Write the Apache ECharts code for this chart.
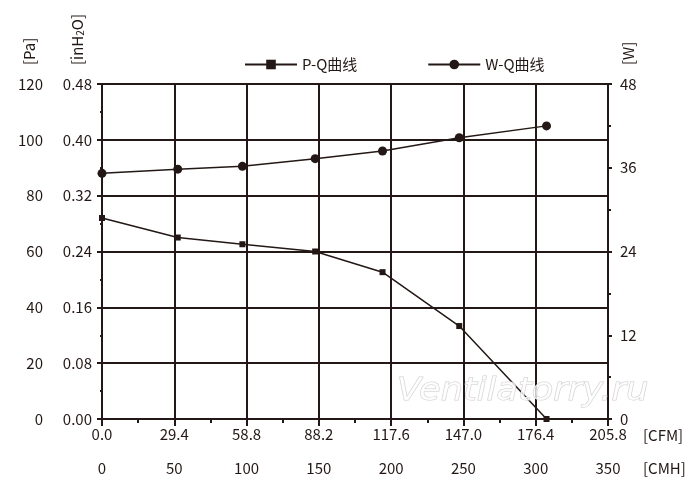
<!DOCTYPE html>
<html>
<head>
<meta charset="utf-8">
<script src="https://cdn.jsdelivr.net/npm/echarts@6/dist/echarts.min.js"></script>
<style>html,body{margin:0;padding:0;background:#fff}#c{width:700px;height:493px}</style>
</head>
<body>
<div id="c"></div>
<script>
var cfm = [0, 30.8, 57.1, 86.7, 114.1, 145.3, 180.8];
var paValues = [72, 65, 62.6, 60, 52.6, 33.3, 0];
var wValues = [35.2, 35.8, 36.2, 37.3, 38.4, 40.3, 42.0];
var seriesNames = ['P-Q曲线', 'W-Q曲线'];
var cfmTicks = [0, 205.8, 29.4];
var cmhTicks = [0, 350, 50];
var paTicks = [0, 120, 20];
var inh2oTicks = [0, 0.48, 0.08];
var wTicks = [0, 48, 12];

var C = '#231815';
var F = 'Noto Sans CJK SC';
function pairs(xs, ys){ return xs.map(function(x,i){ return [x, ys[i]]; }); }

var chart = echarts.init(document.getElementById('c'));
chart.setOption({
  animation: false,
  textStyle: { fontFamily: F, color: C },
  grid: { left: 102, right: 92, top: 84, bottom: 74 },
  legend: {
    left: 244, top: 57, padding: 0, itemWidth: 52, itemHeight: 12, itemGap: 70,
    textStyle: { fontFamily: F, fontSize: 15, color: C },
    data: seriesNames
  },
  xAxis: [
    { type: 'value', min: cfmTicks[0], max: cfmTicks[1], interval: cfmTicks[2], position: 'bottom',
      axisLine: { show: true, lineStyle: { color: C, width: 2 } },
      axisTick: { show: true, length: 7, lineStyle: { color: C, width: 2 } },
      minorTick: { show: true, splitNumber: 2, length: 4, lineStyle: { color: C, width: 2 } },
      splitLine: { show: true, lineStyle: { color: C, width: 2 } },
      axisLabel: { margin: 8, fontSize: 15, color: C, fontFamily: F, formatter: function(v){ return v.toFixed(1); } } },
    { type: 'value', min: cmhTicks[0], max: cmhTicks[1], interval: cmhTicks[2], position: 'bottom',
      axisLine: { show: false }, axisTick: { show: false }, splitLine: { show: false },
      axisLabel: { margin: 42, fontSize: 15, color: C, fontFamily: F } }
  ],
  yAxis: [
    { type: 'value', min: paTicks[0], max: paTicks[1], interval: paTicks[2], position: 'left',
      axisLine: { show: false }, axisTick: { show: false }, splitLine: { show: false },
      axisLabel: { margin: 59, fontSize: 15, color: C, fontFamily: F } },
    { type: 'value', min: inh2oTicks[0], max: inh2oTicks[1], interval: inh2oTicks[2], position: 'left',
      axisLine: { show: true, lineStyle: { color: C, width: 2 } },
      axisTick: { show: true, length: 5, lineStyle: { color: C, width: 2 } },
      minorTick: { show: true, splitNumber: 2, length: 2, lineStyle: { color: C, width: 2 } },
      splitLine: { show: true, lineStyle: { color: C, width: 2 } },
      axisLabel: { margin: 10, fontSize: 15, color: C, fontFamily: F, formatter: function(v){ return v.toFixed(2); } } },
    { type: 'value', min: wTicks[0], max: wTicks[1], interval: wTicks[2], position: 'right',
      axisLine: { show: true, lineStyle: { color: C, width: 2 } },
      axisTick: { show: true, length: 4, lineStyle: { color: C, width: 2 } },
      minorTick: { show: true, splitNumber: 2, length: 3, lineStyle: { color: C, width: 2 } },
      splitLine: { show: false },
      axisLabel: { margin: 12, fontSize: 15, color: C, fontFamily: F } }
  ],
  series: [
    { name: seriesNames[0], type: 'line', xAxisIndex: 0, yAxisIndex: 0, data: pairs(cfm, paValues),
      symbol: 'rect', symbolSize: 6, lineStyle: { color: C, width: 1.5 }, itemStyle: { color: C }, z: 5 },
    { name: seriesNames[1], type: 'line', xAxisIndex: 0, yAxisIndex: 2, data: pairs(cfm, wValues),
      symbol: 'circle', symbolSize: 9, lineStyle: { color: C, width: 1.5 }, itemStyle: { color: C }, z: 5 }
  ],
  graphic: [
    { type: 'text', x: 29, y: 65, rotation: Math.PI / 2,
      style: { text: '[Pa]', font: '15px "Noto Sans CJK SC"', fill: C, align: 'left', verticalAlign: 'middle' } },
    { type: 'text', x: 77, y: 65, rotation: Math.PI / 2,
      style: { text: '{a|[inH}{s|2}{a|O]}', align: 'left', verticalAlign: 'middle', fill: C,
        rich: { a: { fontFamily: F, fontSize: 15, color: C }, s: { fontFamily: F, fontSize: 10, color: C, verticalAlign: 'bottom', padding: [6,0,0,0] } } } },
    { type: 'text', x: 628, y: 65, rotation: Math.PI / 2,
      style: { text: '[W]', font: '15px "Noto Sans CJK SC"', fill: C, align: 'left', verticalAlign: 'middle' } },
    { type: 'text', x: 643, y: 435,
      style: { text: '[CFM]', font: '15px "Noto Sans CJK SC"', fill: C, align: 'left', verticalAlign: 'middle' } },
    { type: 'text', x: 643, y: 468,
      style: { text: '[CMH]', font: '15px "Noto Sans CJK SC"', fill: C, align: 'left', verticalAlign: 'middle' } },
    { type: 'text', x: 397, y: 408, z: 100, scaleX: 1.1,
      style: { text: 'Ventilatorry.ru', font: 'italic 32px "DejaVu Sans"', fill: 'rgba(255,255,255,0.75)', stroke: '#cfcfcf', lineWidth: 1, align: 'left', verticalAlign: 'bottom' } }
  ]
});
</script>
</body>
</html>
